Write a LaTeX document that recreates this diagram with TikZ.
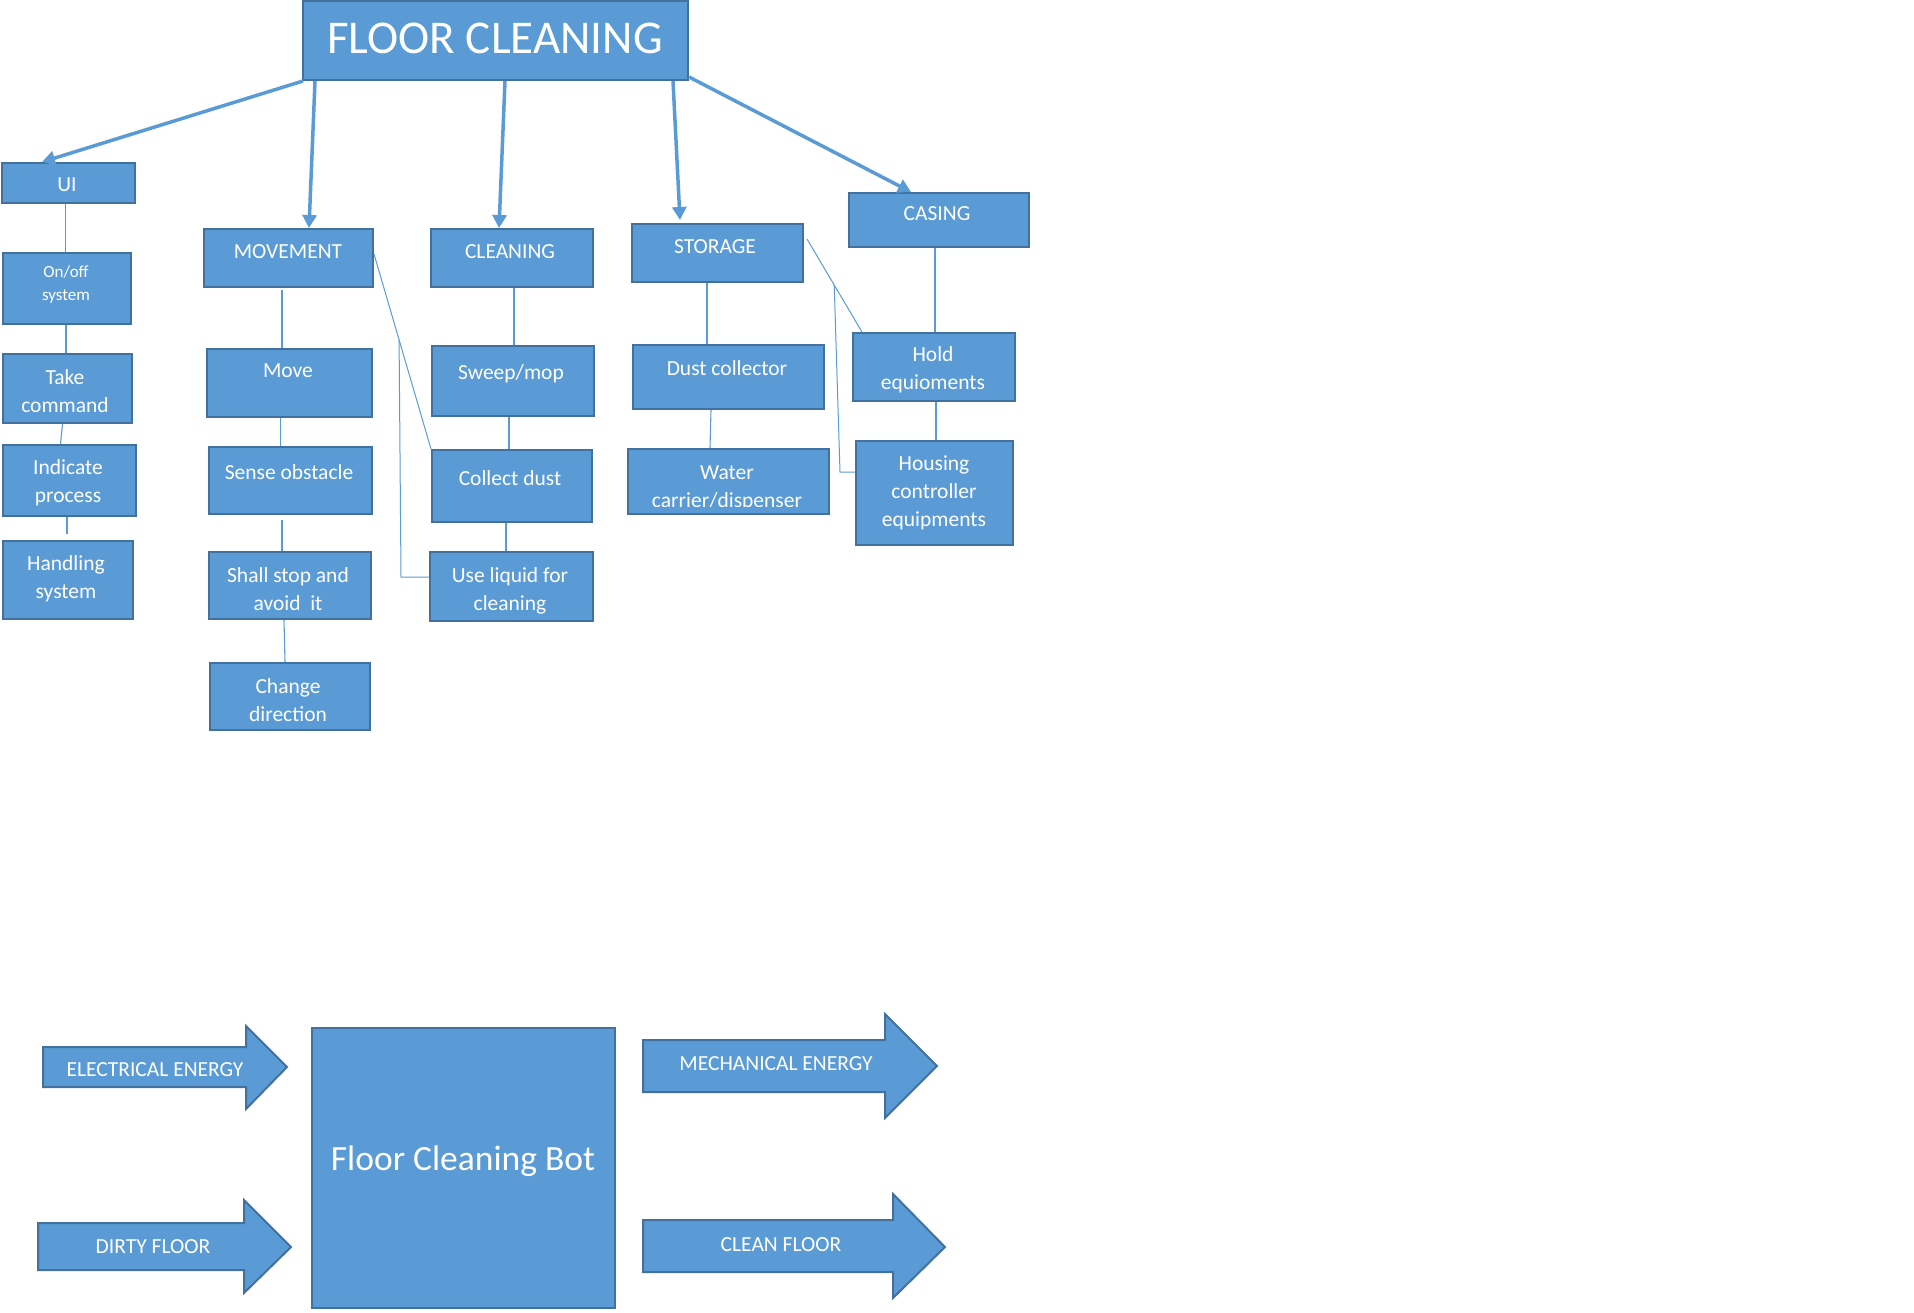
\documentclass[tikz,border=0pt]{standalone}
\usepackage{fontspec}
\setmainfont{Carlito}
\usetikzlibrary{arrows.meta,calc}
\definecolor{bfill}{HTML}{5B9BD5}
\definecolor{bedge}{HTML}{41719C}
\begin{document}
\begin{tikzpicture}[x=1pt,y=-1pt,
  box/.style={draw=bedge, line width=2pt, fill=bfill, inner sep=0pt, anchor=north west},
  txt/.style={text=white, align=center, font=\fontsize{21.5}{28}\selectfont, inner sep=0pt, yshift=-1.5pt},
  small/.style={text=white, align=center, font=\fontsize{17}{23}\selectfont, inner sep=0pt, yshift=-1pt},
  link/.style={draw=bfill, line width=1.1pt},
  bigarrow/.style={draw=bfill, line width=3.5pt, -{Triangle[width=14pt,length=13pt]}},
  blockarrow/.style={draw=bedge, line width=2pt, fill=bfill, line join=miter}]
\useasboundingbox (0,0) rectangle (1914,1313);

% ---------- boxes ----------
\node[box, minimum width=385pt, minimum height=79pt] (fc) at (302,0) {};
\node[box, minimum width=133pt, minimum height=40pt] (ui) at (1,162) {};
\node[box, minimum width=128pt, minimum height=71pt] (onoff) at (2,252) {};
\node[box, minimum width=129pt, minimum height=69pt] (take) at (2,353) {};
\node[box, minimum width=133pt, minimum height=71pt] (ind) at (2,444) {};
\node[box, minimum width=130pt, minimum height=78pt] (hand) at (2,540) {};

\node[box, minimum width=169pt, minimum height=58pt] (mov) at (203,228) {};
\node[box, minimum width=165pt, minimum height=68pt] (move) at (206,348) {};
\node[box, minimum width=163pt, minimum height=67pt] (sense) at (208,446) {};
\node[box, minimum width=162pt, minimum height=67pt] (shall) at (208,551) {};
\node[box, minimum width=160pt, minimum height=67pt] (chg) at (209,662) {};

\node[box, minimum width=162pt, minimum height=58pt] (cln) at (430,228) {};
\node[box, minimum width=162pt, minimum height=70pt] (sweep) at (431,345) {};
\node[box, minimum width=160pt, minimum height=72pt] (coll) at (431,449) {};
\node[box, minimum width=163pt, minimum height=69pt] (liq) at (429,551) {};

\node[box, minimum width=171pt, minimum height=58pt] (sto) at (631,223) {};
\node[box, minimum width=191pt, minimum height=64pt] (dust) at (632,344) {};
\node[box, minimum width=201pt, minimum height=65pt] (water) at (627,448) {};

\node[box, minimum width=180pt, minimum height=54pt] (cas) at (848,192) {};
\node[box, minimum width=162pt, minimum height=68pt] (hold) at (852,332) {};
\node[box, minimum width=157pt, minimum height=104pt] (hous) at (855,440) {};

\node[box, minimum width=303pt, minimum height=280pt] (bot) at (311,1027) {};

% ---------- texts ----------
\node[text=white, font=\fontsize{47}{50}\selectfont, inner sep=0pt] (tfc) at (495,38) {FLOOR CLEANING};
\node[txt] (tui) at (67,183) {UI};
\node[small] (tonoff) at (66,283) {On/off\\system};
\node[txt] (ttake) at (65,390) {Take\\command};
\node[txt] (tind) at (68,481) {Indicate\\process};
\node[txt] (thand) at (66,577) {Handling\\system};

\node[txt] (tmov) at (288,250) {MOVEMENT};
\node[txt] (tmove) at (288,369) {Move};
\node[txt] (tsense) at (289,471) {Sense obstacle};
\node[txt] (tshall) at (288,588) {Shall stop and\\avoid\ \ it};
\node[txt] (tchg) at (288,699) {Change\\direction};

\node[txt] (tcln) at (510,250) {CLEANING};
\node[txt] (tsweep) at (511,372) {Sweep/mop};
\node[txt] (tcoll) at (510,477) {Collect dust};
\node[txt] (tliq) at (510,589) {Use liquid for\\cleaning};

\node[txt] (tsto) at (715,245) {STORAGE};
\node[txt] (tdust) at (727,367) {Dust collector};
\begin{scope}
  \clip ($(water.north west)+(1,1)$) rectangle ($(water.south east)+(-1,-9)$);
  \node[txt] (twater) at (727,487) {Water\\carrier/dispenser};
\end{scope}

\node[txt] (tcas) at (937,212) {CASING};
\node[txt] (thold) at (933,368) {Hold\\equioments};
\node[txt] (thous) at (934,491) {Housing\\controller\\equipments};

% ---------- big arrows from top ----------
\draw[bigarrow] (fc.south -| 303,0) -- (ui.north -| 42,0);
\draw[bigarrow] (fc.south -| 315,0) -- (mov.north -| 309,0);
\draw[bigarrow] (fc.south -| 505,0) -- (cln.north -| 499,0);
\draw[bigarrow] (fc.south -| 673,0) -- ($(sto.north -| 680,0)+(0,-3)$);
\draw[bigarrow] ($(fc.south east)+(0,-4)$) -- (cas.north -| 911,0);

% ---------- thin links ----------
\draw[link] (ui.south -| 65.6,0) -- (onoff.north -| 65.6,0);
\draw[link] (onoff.south -| 66,0) -- (take.north -| 66,0);
\draw[link] (take.south -| 62.5,0) -- (ind.north -| 60.5,0);
\draw[link] (ind.south -| 67,0) -- ($(hand.north -| 67,0)+(0,-6)$);

\draw[link] ($(mov.south -| 282,0)+(0,2)$) -- (move.north -| 282,0);
\draw[link] (move.south -| 280.6,0) -- (sense.north -| 280.6,0);
\draw[link] ($(sense.south -| 282,0)+(0,5)$) -- (shall.north -| 282,0);
\draw[link] (shall.south -| 284,0) -- (chg.north -| 285,0);

\draw[link] (cln.south -| 514,0) -- (sweep.north -| 514,0);
\draw[link] (sweep.south -| 509,0) -- (coll.north -| 509,0);
\draw[link] (coll.south -| 506,0) -- (liq.north -| 506,0);

\draw[link] (sto.south -| 707,0) -- (dust.north -| 707,0);
\draw[link] (dust.south -| 711,0) -- (water.north -| 710,0);

\draw[link] (cas.south -| 935,0) -- (hold.north -| 935,0);
\draw[link] (hold.south -| 936,0) -- (hous.north -| 936,0);

% diagonal + elbow links
\coordinate (d1s) at ($(mov.north east)+(0,26)$);
\draw[link, line width=1pt] (d1s) -- (coll.north west);
\draw[link, line width=1pt] ($(d1s)!0.44!(coll.north west)$) -- (401,577) -- (liq.west |- 0,577);

\coordinate (d2s) at ($(sto.north east)+(3,16)$);
\coordinate (d2e) at ($(hold.north west)+(10,0)$);
\draw[link, line width=1pt] (d2s) -- (d2e);
\draw[link, line width=1pt] ($(d2s)!0.495!(d2e)$) -- (840,472) -- (hous.west |- 0,472);

% ---------- bottom block diagram ----------
\node[text=white, font=\fontsize{35.5}{40}\selectfont, inner sep=0pt] (tbot) at (463,1161) {Floor Cleaning Bot};

\draw[blockarrow] (43,1047) -- (246,1047) -- (246,1026) -- (287,1067) -- (246,1109) -- (246,1087) -- (43,1087) -- cycle;
\node[txt] (tel) at (155,1068) {ELECTRICAL ENERGY};

\draw[blockarrow] (38,1223) -- (244,1223) -- (244,1200) -- (291,1247) -- (244,1293) -- (244,1270) -- (38,1270) -- cycle;
\node[txt] (tdirty) at (153,1245) {DIRTY FLOOR};

\draw[blockarrow] (643,1040) -- (885,1040) -- (885,1014) -- (937,1066) -- (885,1118) -- (885,1092) -- (643,1092) -- cycle;
\node[txt] (tmech) at (776,1062) {MECHANICAL ENERGY};

\draw[blockarrow] (643,1220) -- (893,1220) -- (893,1194) -- (945,1247) -- (893,1298) -- (893,1272) -- (643,1272) -- cycle;
\node[txt] (tclean) at (781,1243) {CLEAN FLOOR};

\end{tikzpicture}
\end{document}
